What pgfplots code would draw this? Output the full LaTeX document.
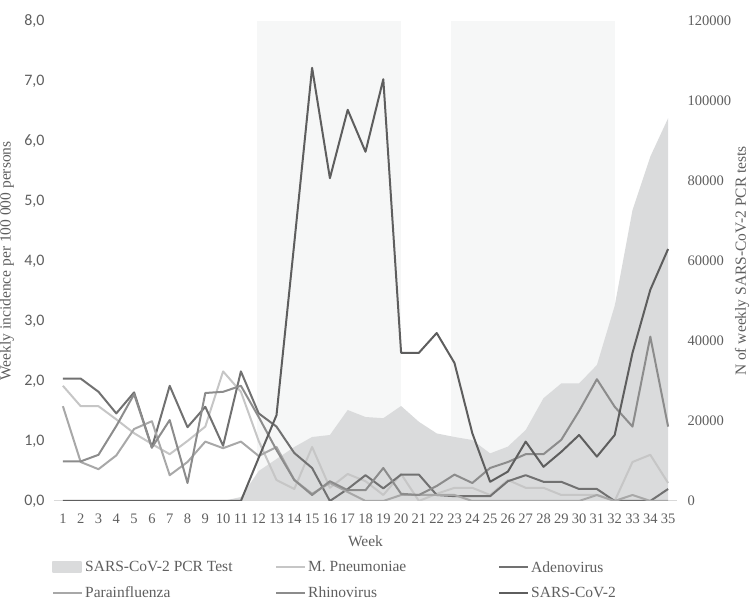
\documentclass[border=0pt]{standalone}
\usepackage{pgfplots}
\pgfplotsset{compat=1.18}
\usepackage{pgfplotstable}
\usepackage{fontspec}
\setmainfont{Liberation Serif}
\newfontfamily\carlito{Carlito}
\definecolor{txt}{HTML}{5F5F5F}
\definecolor{band}{HTML}{F6F7F7}
\definecolor{areagray}{HTML}{DADBDC}
\definecolor{axisline}{HTML}{D9D9D9}
\definecolor{csc}{HTML}{5E5E5E}
\definecolor{cadeno}{HTML}{717171}
\definecolor{crhino}{HTML}{8C8C8C}
\definecolor{cpara}{HTML}{A8A8A8}
\definecolor{cmpn}{HTML}{C6C6C6}
\newcommand\fs{\fontsize{14.5}{17}\selectfont}
\newcommand\fl{\fontsize{15.5}{18}\selectfont}

\pgfplotstableread{
w sc adeno rhino para mpn pcr
1 0 2.04 0.66 1.58 1.92 0
2 0 2.04 0.66 0.65 1.58 0
3 0 1.82 0.77 0.53 1.58 0
4 0 1.46 1.25 0.76 1.36 0
5 0 1.81 1.78 1.20 1.13 0
6 0 0.89 0.89 1.33 0.95 0
7 0 1.92 1.35 0.43 0.78 0
8 0 1.23 0.30 0.65 1.00 0
9 0 1.57 1.80 0.99 1.24 0
10 0 0.92 1.82 0.88 2.16 0
11 0 2.16 1.92 0.99 1.82 1000
12 0.72 1.46 1.40 0.75 1.00 7500
13 1.43 1.24 0.85 0.90 0.35 10500
14 4.30 0.80 0.35 0.35 0.20 13500
15 7.22 0.55 0.10 0.12 0.90 16000
16 5.38 0.00 0.33 0.30 0.22 16500
17 6.52 0.20 0.18 0.15 0.45 22750
18 5.82 0.43 0.18 0.00 0.33 21000
19 7.03 0.21 0.55 0.00 0.10 20700
20 2.47 0.44 0.12 0.10 0.45 23750
21 2.47 0.44 0.10 0.10 0.00 19800
22 2.80 0.10 0.25 0.10 0.12 16900
23 2.30 0.08 0.44 0.10 0.22 16000
24 1.13 0.08 0.30 0.00 0.22 15250
25 0.32 0.08 0.55 0.00 0.10 11900
26 0.49 0.33 0.65 0.00 0.35 13600
27 0.99 0.43 0.78 0.00 0.22 17750
28 0.57 0.32 0.78 0.00 0.22 25700
29 0.82 0.32 1.02 0.00 0.10 29400
30 1.10 0.20 1.50 0.00 0.10 29400
31 0.74 0.20 2.03 0.10 0.10 34000
32 1.10 0.00 1.57 0.00 0.00 48800
33 2.47 0.00 1.24 0.10 0.65 72750
34 3.52 0.00 2.74 0.00 0.77 86100
35 4.20 0.20 1.24 0.00 0.30 95700
}\data

\begin{document}
\begin{tikzpicture}
\useasboundingbox (-54pt,-101pt) rectangle (696pt,501pt);
% back axis: PCR tests (right axis)
\begin{axis}[
  at={(0pt,0pt)}, anchor=south west, scale only axis,
  width=623pt, height=480pt,
  xmin=0.5, xmax=35.5, ymin=0, ymax=120000,
  axis x line=none, axis y line*=right,
  y axis line style={draw=none},
  scaled y ticks=false,
  xtick=\empty,
  ytick={0,20000,40000,60000,80000,100000,120000},
  yticklabels={0,20000,40000,60000,80000,100000,120000},
  major tick length=0pt,
  yticklabel style={font=\fs, text=txt, anchor=west, xshift=7pt},
  ylabel={N of weekly SARS-CoV-2 PCR tests},
  ylabel style={font=\fl, text=txt, at={(axis description cs:1.1043,0.5)}, anchor=center},
]
\addplot[draw=none, fill=band] coordinates {(11.9,120000) (20,120000)} \closedcycle;
\addplot[draw=none, fill=band] coordinates {(22.8,120000) (32,120000)} \closedcycle;
\addplot[draw=none, fill=areagray] table[x=w, y=pcr] {\data} \closedcycle;
\end{axis}
% front axis: incidence (left axis)
\begin{axis}[
  at={(0pt,0pt)}, anchor=south west, scale only axis,
  width=623pt, height=480pt,
  xmin=0.5, xmax=35.5, ymin=0, ymax=8,
  axis x line*=bottom, axis y line*=left,
  y axis line style={draw=none},
  x axis line style={draw=axisline, line width=1pt},
  xtick={1,...,35},
  ytick={0,1,2,3,4,5,6,7,8},
  yticklabels={{0,0},{1,0},{2,0},{3,0},{4,0},{5,0},{6,0},{7,0},{8,0}},
  major tick length=0pt,
  /pgf/number format/assume math mode=true,
  xticklabel style={font=\fs, text=txt, yshift=-9pt},
  yticklabel style={font=\carlito\fontsize{16}{18}\selectfont, text=txt, anchor=east, xshift=-6pt},
  xlabel={Week},
  xlabel style={font=\fl, text=txt, at={(axis description cs:0.5,-0.0833)}, anchor=center},
  ylabel={Weekly incidence per 100 000 persons},
  ylabel style={font=\fl, text=txt, at={(axis description cs:-0.0754,0.5)}, anchor=center},
  legend columns=3,
  legend cell align=left,
  legend style={at={(axis description cs:-0.0032,-0.121)}, anchor=north west,
    draw=none, fill=none, font=\fl, text=txt, row sep=9pt, inner sep=0pt},
  legend image code/.code={\draw[#1] (0pt,0pt) -- (29pt,0pt);},
  every axis plot/.append style={line width=2pt, line join=round},
]
\addlegendimage{legend image code/.code={\fill[areagray] (0pt,-5pt) rectangle (28pt,5pt);}}
\addlegendentry{\makebox[188pt][l]{SARS-CoV-2 PCR Test}}
\addplot[cmpn] table[x=w, y=mpn] {\data};
\addlegendentry{\makebox[188pt][l]{M. Pneumoniae}}
\addplot[cadeno] table[x=w, y=adeno] {\data};
\addlegendentry{\makebox[188pt][l]{Adenovirus}}
\addplot[cpara] table[x=w, y=para] {\data};
\addlegendentry{\makebox[188pt][l]{Parainfluenza}}
\addplot[crhino] table[x=w, y=rhino] {\data};
\addlegendentry{\makebox[188pt][l]{Rhinovirus}}
\addplot[csc] table[x=w, y=sc] {\data};
\addlegendentry{\makebox[188pt][l]{SARS-CoV-2}}
\end{axis}
\end{tikzpicture}
\end{document}
